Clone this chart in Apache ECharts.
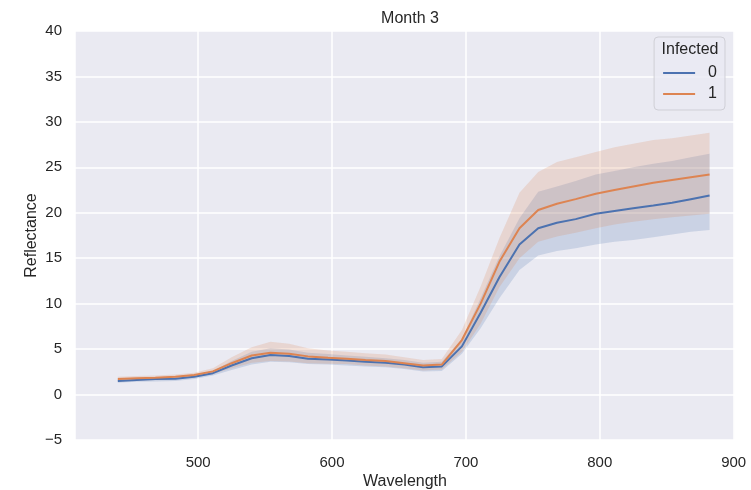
<!DOCTYPE html>
<html>
<head>
<meta charset="utf-8">
<title>Month 3</title>
<script src="https://cdn.jsdelivr.net/npm/echarts@6/dist/echarts.min.js"></script>
<style>
    html, body { margin: 0; padding: 0; background: #ffffff; }
    #chart { width: 751px; height: 490px; }
</style>
</head>
<body>
<div id="chart"></div>
<script>
// ============================================
// 数据
// ============================================
const wavelengths = [440, 454, 468, 483, 497, 511, 525, 540, 554, 568, 582, 597, 611, 625, 640, 654,
    668, 682, 697, 711, 725, 740, 754, 768, 782, 797, 811, 825, 840, 854, 868, 882];

// Infected = 0
const mean0 = [1.5, 1.6, 1.7, 1.75, 1.95, 2.35, 3.2, 4.0, 4.35, 4.25, 3.95, 3.85, 3.75, 3.6, 3.5, 3.3,
    3.0, 3.1, 5.3, 9.0, 12.9, 16.5, 18.3, 18.9, 19.3, 19.9, 20.2, 20.5, 20.8, 21.1, 21.5, 21.9];
const low0 = [1.3, 1.4, 1.45, 1.5, 1.7, 2.1, 2.7, 3.3, 3.6, 3.55, 3.35, 3.3, 3.2, 3.1, 3.0, 2.8,
    2.55, 2.6, 4.5, 7.3, 10.6, 13.7, 15.3, 15.8, 16.1, 16.5, 16.8, 17.0, 17.3, 17.6, 17.9, 18.1];
const high0 = [1.7, 1.8, 1.9, 2.0, 2.2, 2.6, 3.7, 4.7, 5.1, 4.95, 4.6, 4.45, 4.3, 4.15, 4.0, 3.8,
    3.5, 3.6, 6.1, 10.6, 15.2, 19.4, 22.3, 22.9, 23.5, 24.2, 24.6, 25.0, 25.4, 25.7, 26.1, 26.5];

// Infected = 1
const mean1 = [1.7, 1.8, 1.85, 1.95, 2.15, 2.55, 3.45, 4.3, 4.6, 4.5, 4.2, 4.05, 3.95, 3.8, 3.7, 3.45,
    3.2, 3.3, 6.0, 10.0, 14.6, 18.3, 20.3, 21.0, 21.5, 22.1, 22.5, 22.9, 23.3, 23.6, 23.9, 24.2];
const low1 = [1.45, 1.55, 1.6, 1.7, 1.9, 2.25, 2.9, 3.5, 3.7, 3.65, 3.45, 3.4, 3.35, 3.2, 3.1, 2.9,
    2.65, 2.75, 4.7, 7.8, 11.8, 15.0, 16.8, 17.4, 17.8, 18.3, 18.7, 19.0, 19.3, 19.5, 19.7, 19.9];
const high1 = [1.95, 2.05, 2.1, 2.2, 2.4, 2.9, 4.1, 5.2, 5.8, 5.6, 5.1, 4.85, 4.7, 4.55, 4.4, 4.1,
    3.8, 3.9, 7.1, 11.9, 17.2, 22.2, 24.5, 25.6, 26.1, 26.7, 27.2, 27.6, 28.0, 28.2, 28.5, 28.8];

const groups = ['0', '1'];
const yTicks = { min: -5, max: 40, step: 5 };

const BLUE = '#4c72b0';
const ORANGE = '#dd8452';
const TEXT = '#262626';
const FONT = 'Liberation Sans, Arial, sans-serif';

// ============================================
// 工具函数
// ============================================
function toPairs(xs, ys) {
    return xs.map((x, i) => [x, ys[i]]);
}

// 置信带: 一个多边形, 上沿正向, 下沿反向
function bandSeries(name, lo, hi, color) {
    return {
        name: name,
        type: 'custom',
        silent: true,
        data: wavelengths.map((w, i) => [w, lo[i], hi[i]]),
        encode: { x: 0, y: [1, 2] },
        renderItem: function (params, api) {
            if (params.dataIndex !== 0) return null;
            const top = wavelengths.map((w, i) => api.coord([w, hi[i]]));
            const bottom = wavelengths.map((w, i) => api.coord([w, lo[i]])).reverse();
            return {
                type: 'polygon',
                shape: { points: top.concat(bottom) },
                style: { fill: color, stroke: null }
            };
        }
    };
}

function lineSeries(name, ys, color) {
    return {
        name: name,
        type: 'line',
        data: toPairs(wavelengths, ys),
        symbol: 'none',
        lineStyle: { color: color, width: 2 },
        itemStyle: { color: color }
    };
}

// ============================================
// 图表
// ============================================
const chart = echarts.init(document.getElementById('chart'), null, { renderer: 'canvas' });

const option = {
    animation: false,
    textStyle: { fontFamily: FONT, color: TEXT },
    title: {
        text: 'Month 3',
        left: 405,
        top: 6,
        textAlign: 'center',
        textStyle: { fontSize: 16, fontWeight: 'normal', color: TEXT, fontFamily: FONT }
    },
    grid: {
        left: 75,
        right: 16,
        top: 31,
        bottom: 50,
        outerBoundsMode: 'none',
        show: true,
        backgroundColor: '#eaeaf2',
        borderWidth: 0
    },
    legend: {
        data: groups,
        orient: 'vertical',
        right: 26,
        top: 37,
        padding: [28, 8, 8, 9],
        itemWidth: 32,
        itemHeight: 2,
        itemGap: 5,
        icon: 'rect',
        backgroundColor: 'rgba(234,234,242,0.8)',
        borderColor: '#cfcfd6',
        borderWidth: 1,
        borderRadius: 4,
        textStyle: { fontSize: 16, color: TEXT, fontFamily: FONT, padding: [0, 0, 0, 8] }
    },
    graphic: [{
        type: 'text',
        x: 690,
        y: 50,
        z: 100,
        style: {
            text: 'Infected',
            align: 'center',
            verticalAlign: 'middle',
            fontSize: 16,
            fontFamily: FONT,
            fill: TEXT
        }
    }],
    xAxis: {
        type: 'value',
        name: 'Wavelength',
        nameLocation: 'middle',
        nameGap: 34,
        nameMoveOverlap: false,
        nameTextStyle: { fontSize: 16, color: TEXT },
        min: 408,
        max: 901,
        axisLine: { show: false },
        axisTick: { show: false },
        axisLabel: {
            fontSize: 15,
            color: TEXT,
            margin: 15,
            formatter: v => (v % 100 === 0 ? String(v) : '')
        },
        splitLine: { show: true, lineStyle: { color: '#ffffff', width: 1.5 } }
    },
    yAxis: {
        type: 'value',
        name: 'Reflectance',
        nameLocation: 'middle',
        nameGap: 35,
        nameMoveOverlap: false,
        nameTextStyle: { fontSize: 16, color: TEXT },
        min: yTicks.min,
        max: yTicks.max,
        interval: yTicks.step,
        axisLine: { show: false },
        axisTick: { show: false },
        axisLabel: {
            fontSize: 15,
            color: TEXT,
            margin: 13,
            formatter: v => (v < 0 ? '\u2212' + Math.abs(v) : String(v))
        },
        splitLine: { show: true, lineStyle: { color: '#ffffff', width: 1.5 } }
    },
    series: [
        lineSeries('0', mean0, BLUE),
        bandSeries('band0', low0, high0, 'rgba(76,114,176,0.2)'),
        lineSeries('1', mean1, ORANGE),
        bandSeries('band1', low1, high1, 'rgba(221,132,82,0.2)')
    ]
};

chart.setOption(option);
window.addEventListener('resize', () => chart.resize());
</script>
</body>
</html>
